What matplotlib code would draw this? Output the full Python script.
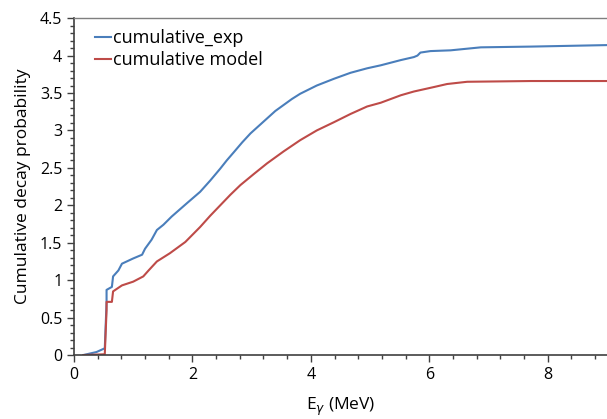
import matplotlib
matplotlib.use("Agg")
import matplotlib.pyplot as plt
from matplotlib.ticker import MultipleLocator, FuncFormatter

plt.rcParams['font.family'] = ['Open Sans', 'DejaVu Sans']

exp_E = [0.16, 0.38, 0.52, 0.55, 0.55, 0.64, 0.66, 0.75, 0.81, 1.0, 1.15, 1.2, 1.31, 1.4, 1.51,
         1.65, 1.91, 2.13, 2.3, 2.47, 2.58, 2.70, 2.84, 2.98, 3.12, 3.26, 3.40, 3.54, 3.68, 3.82,
         4.1, 4.39, 4.67, 4.95, 5.18, 5.52, 5.74, 5.8, 5.85, 6.02, 6.36, 6.87, 7.72, 9.0]
exp_val = [0.0, 0.04, 0.09, 0.7, 0.87, 0.91, 1.05, 1.13, 1.22, 1.29, 1.34, 1.42, 1.54, 1.67, 1.74,
           1.85, 2.03, 2.18, 2.33, 2.49, 2.6, 2.71, 2.84, 2.96, 3.06, 3.16, 3.26, 3.34, 3.42, 3.49,
           3.60, 3.69, 3.77, 3.83, 3.87, 3.94, 3.98, 4.0, 4.04, 4.06, 4.07, 4.11, 4.12, 4.14]

model_E = [0.16, 0.52, 0.55, 0.55, 0.64, 0.66, 0.81, 1.0, 1.17, 1.26, 1.4, 1.62, 1.88, 2.13,
           2.3, 2.47, 2.64, 2.81, 3.04, 3.26, 3.54, 3.82, 4.1, 4.39, 4.67, 4.95, 5.18, 5.52,
           5.74, 6.08, 6.3, 6.64, 7.72, 9.0]
model_val = [0.0, 0.01, 0.6, 0.71, 0.71, 0.85, 0.93, 0.98, 1.05, 1.13, 1.25, 1.36, 1.51, 1.71,
             1.86, 2.0, 2.14, 2.27, 2.42, 2.56, 2.72, 2.87, 3.0, 3.11, 3.22, 3.32, 3.37, 3.47,
             3.52, 3.58, 3.62, 3.65, 3.66, 3.66]

fig = plt.figure(figsize=(6.07, 4.19), dpi=100)
ax = fig.add_axes([0.1219, 0.1527, 0.878, 0.804])

ax.plot(exp_E, exp_val, color='#4A7EBB', lw=1.5, label='cumulative_exp')
ax.plot(model_E, model_val, color='#BE4B48', lw=1.5, label='cumulative model')

ax.set_xlim(0, 9)
ax.set_ylim(0, 4.5)
ax.xaxis.set_major_locator(MultipleLocator(2))
ax.xaxis.set_minor_locator(MultipleLocator(0.4))
ax.yaxis.set_major_locator(MultipleLocator(0.5))
ax.yaxis.set_minor_locator(MultipleLocator(0.1))
ax.yaxis.set_major_formatter(FuncFormatter(lambda v, p: f"{v:g}"))
ax.tick_params(which='both', direction='out', color='#404040', labelsize=11.5, labelcolor='#000000')
ax.tick_params(which='major', length=5, width=1)
ax.tick_params(which='minor', length=3, width=1)

for s in ['left', 'bottom']:
    ax.spines[s].set_color('#404040')
    ax.spines[s].set_linewidth(1.2)
ax.spines['right'].set_visible(False)
ax.spines['top'].set_color('#7f7f7f')
ax.spines['top'].set_linewidth(1.0)

ax.set_xlabel('E$_\\gamma$ (MeV)', fontsize=12.5, labelpad=9)
ax.set_ylabel('Cumulative decay probability', fontsize=12.5, labelpad=6)

leg = ax.legend(loc='upper left', frameon=False, fontsize=13, handlelength=0.85,
                handletextpad=0.1, labelspacing=0.25, borderaxespad=0.2,
                bbox_to_anchor=(0.02, 1.0))

fig.savefig('out.png', dpi=100)
